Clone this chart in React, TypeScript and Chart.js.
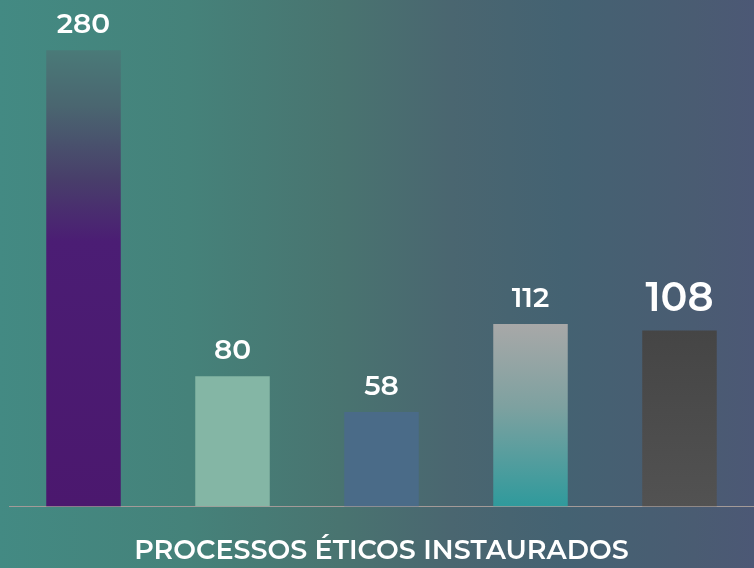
import React, { useEffect, useRef } from "react";
import { Chart, registerables } from "chart.js";

Chart.register(...registerables);

const categories = ["A", "B", "C", "D", "E"];
const values = [280, 80, 58, 112, 108];
const valueLabels = ["280", "80", "58", "112", "108"];
const labelSizes = [28, 28, 28, 28, 40];
const title = "PROCESSOS ÉTICOS INSTAURADOS";

const FONT = "Montserrat, 'Open Sans', Lato, sans-serif";

function barFill(ctx: any) {
  const chart = ctx.chart;
  const i = ctx.dataIndex;
  const y = chart.scales?.y;
  const solid = ["#4b186e", "#84b6a5", "#4a6b88", "#6a9e9e", "#4a4a4a"];
  if (!y || ctx.type !== "data") return solid[i] || "#888";
  const top = y.getPixelForValue(values[i]);
  const bot = y.getPixelForValue(0);
  if (!isFinite(top) || !isFinite(bot) || top === bot) return solid[i];
  const c = chart.ctx as CanvasRenderingContext2D;
  if (i === 0) {
    const g = c.createLinearGradient(0, top, 0, bot);
    g.addColorStop(0, "#4a7a78");
    g.addColorStop(0.12, "#4a6670");
    g.addColorStop(0.28, "#483f6a");
    g.addColorStop(0.42, "#4b1d74");
    g.addColorStop(1, "#4b186e");
    return g;
  }
  if (i === 1) return "#84b6a5";
  if (i === 2) return "#4a6b88";
  if (i === 3) {
    const g = c.createLinearGradient(0, top, 0, bot);
    g.addColorStop(0, "#a8a8a8");
    g.addColorStop(0.45, "#7ea1a0");
    g.addColorStop(1, "#2f9a9c");
    return g;
  }
  const g = c.createLinearGradient(0, top, 0, bot);
  g.addColorStop(0, "#454545");
  g.addColorStop(1, "#525252");
  return g;
}

const valueLabelPlugin = {
  id: "valueLabels",
  afterDatasetsDraw(chart: any) {
    const c = chart.ctx as CanvasRenderingContext2D;
    const meta = chart.getDatasetMeta(0);
    c.save();
    c.fillStyle = "#ffffff";
    c.textAlign = "center";
    c.textBaseline = "alphabetic";
    meta.data.forEach((bar: any, i: number) => {
      c.font = `600 ${labelSizes[i]}px ${FONT}`;
      const off = i === 4 ? 20 : 17;
      c.fillText(valueLabels[i], bar.x, bar.y - off);
    });
    c.restore();
  },
};

export default function App() {
  const ref = useRef<HTMLCanvasElement>(null);
  useEffect(() => {
    document.body.style.margin = "0";
    const chart = new Chart(ref.current!, {
      type: "bar",
      data: {
        labels: categories,
        datasets: [
          {
            data: values,
            backgroundColor: barFill as any,
            borderWidth: 0,
            barPercentage: 0.5,
            categoryPercentage: 1,
          },
        ],
      },
      options: {
        animation: false,
        responsive: false,
        maintainAspectRatio: false,
        layout: { padding: { top: 34, left: 9, right: 0, bottom: 0 } },
        plugins: {
          legend: { display: false },
          tooltip: { enabled: false },
          title: {
            display: true,
            text: title,
            position: "bottom",
            color: "#ffffff",
            font: { family: FONT, size: 27, weight: "600" as any },
            padding: { top: 28, bottom: 1 },
          },
        },
        scales: {
          x: {
            grid: { display: false, drawTicks: false },
            ticks: { display: false },
            border: { display: true, color: "#a39a98", width: 1 },
          },
          y: {
            display: false,
            min: 0,
            max: 290,
          },
        },
      },
      plugins: [valueLabelPlugin],
    });
    return () => chart.destroy();
  }, []);
  return (
    <div
      style={{
        position: "fixed",
        left: 0,
        top: 0,
        width: 754,
        height: 568,
        background:
          "linear-gradient(90deg, #438a83 0%, #45827a 25%, #497470 45%, #4a6670 60%, #446272 75%, #4a5c72 92%, #4c5875 100%)",
      }}
    >
      <canvas ref={ref} width={754} height={568} style={{ display: "block" }} />
    </div>
  );
}
